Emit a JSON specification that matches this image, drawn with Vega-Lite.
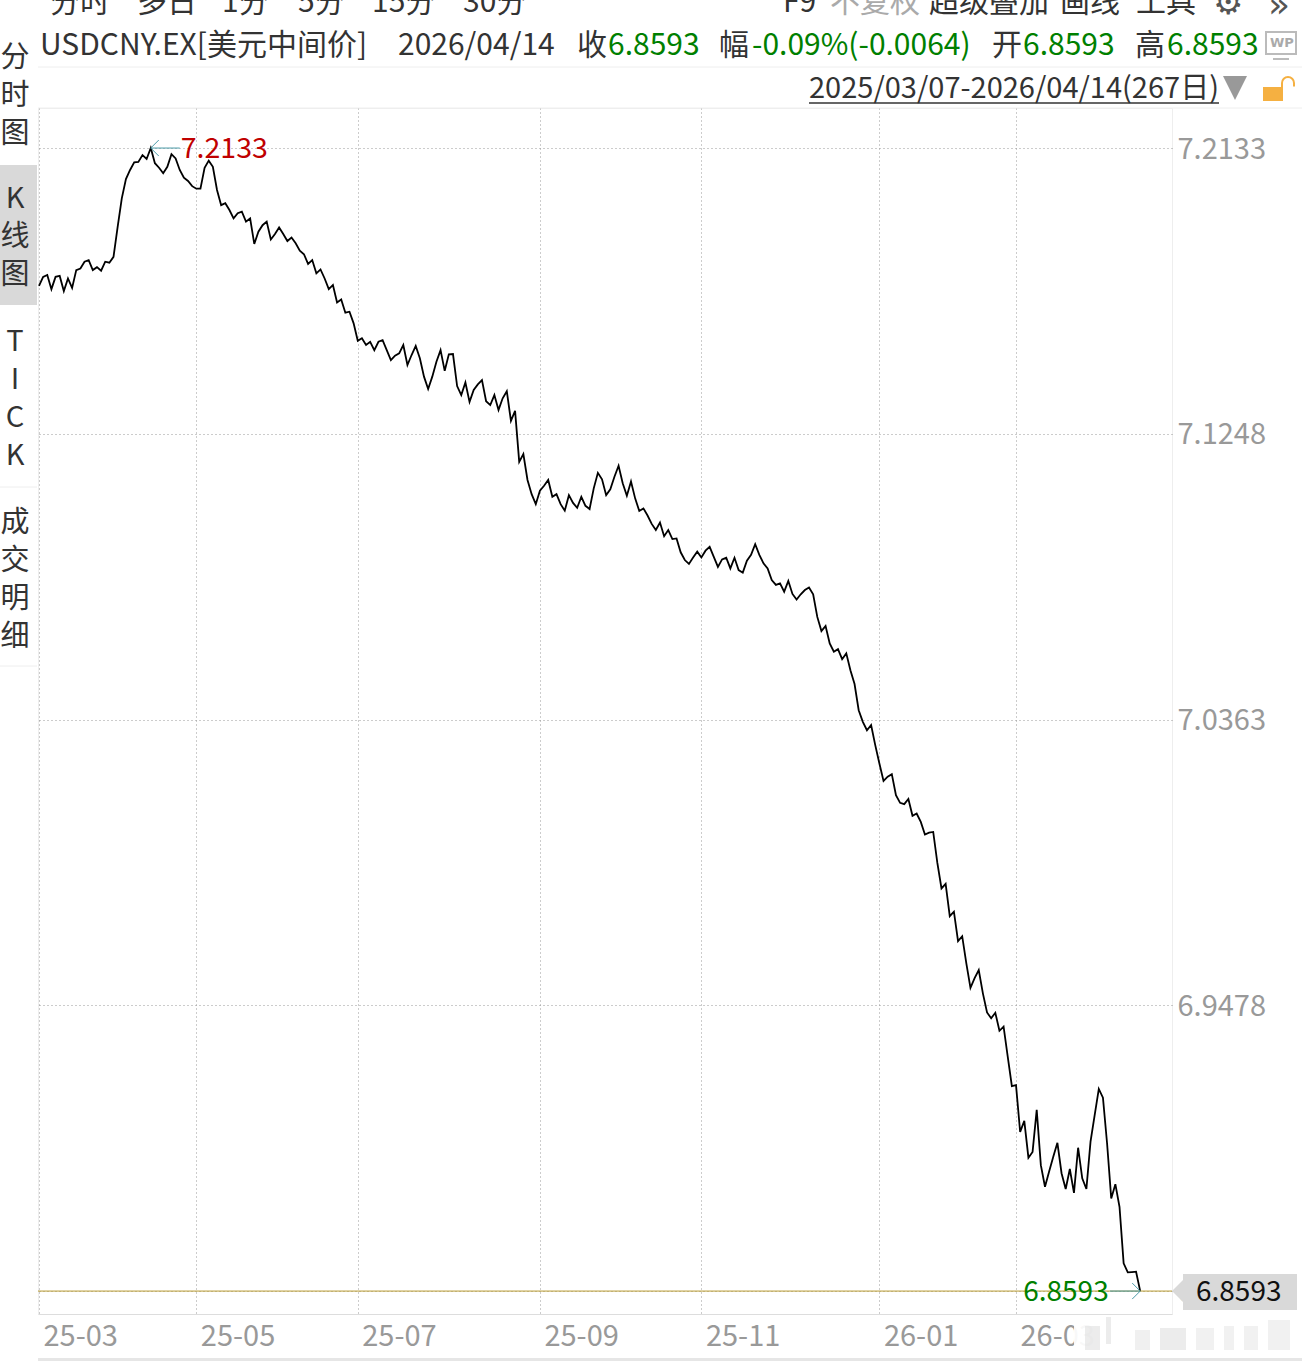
{
"$schema":"https://vega.github.io/schema/vega-lite/v6.json",
"width":1134,"height":1206,
"autosize":{"type":"none"},
"padding":{"left":38,"top":108,"right":130,"bottom":52},
"background":"white",
"config":{
"view":{"stroke":"#eeeeee"},
"text":{"font":"Noto Sans CJK SC","fontSize":30,"align":"left","baseline":"middle","color":"#333333"}
},
"datasets":{
"one":[{}],
"prices":[
{"day":0,"close":7.1706},{"day":1,"close":7.1734},{"day":2,"close":7.174},{"day":3,"close":7.1696},{"day":4,"close":7.1734},{"day":5,"close":7.1737},{"day":6,"close":7.169},{"day":7,"close":7.1729},{"day":8,"close":7.17},{"day":9,"close":7.1755},
{"day":10,"close":7.176},{"day":11,"close":7.1781},{"day":12,"close":7.1786},{"day":13,"close":7.1755},{"day":14,"close":7.1764},{"day":15,"close":7.1753},{"day":16,"close":7.1781},{"day":17,"close":7.1778},{"day":18,"close":7.1796},{"day":19,"close":7.1889},
{"day":20,"close":7.1977},{"day":21,"close":7.2037},{"day":22,"close":7.2065},{"day":23,"close":7.2089},{"day":24,"close":7.209},{"day":25,"close":7.2111},{"day":26,"close":7.2099},{"day":27,"close":7.2133},{"day":28,"close":7.2086},{"day":29,"close":7.2072},
{"day":30,"close":7.2055},{"day":31,"close":7.2075},{"day":32,"close":7.2114},{"day":33,"close":7.2101},{"day":34,"close":7.2065},{"day":35,"close":7.2041},{"day":36,"close":7.2031},{"day":37,"close":7.2015},{"day":38,"close":7.2007},{"day":39,"close":7.2007},
{"day":40,"close":7.2072},{"day":41,"close":7.2094},{"day":42,"close":7.2075},{"day":43,"close":7.2003},{"day":44,"close":7.1956},{"day":45,"close":7.1962},{"day":46,"close":7.1941},{"day":47,"close":7.1915},{"day":48,"close":7.1931},{"day":49,"close":7.1936},
{"day":50,"close":7.1905},{"day":51,"close":7.1915},{"day":52,"close":7.1836},{"day":53,"close":7.1874},{"day":54,"close":7.1894},{"day":55,"close":7.1905},{"day":56,"close":7.185},{"day":57,"close":7.1867},{"day":58,"close":7.1887},{"day":59,"close":7.1867},
{"day":60,"close":7.1845},{"day":61,"close":7.1856},{"day":62,"close":7.1838},{"day":63,"close":7.1815},{"day":64,"close":7.1804},{"day":65,"close":7.1774},{"day":66,"close":7.1786},{"day":67,"close":7.1745},{"day":68,"close":7.1757},{"day":69,"close":7.1729},
{"day":70,"close":7.1696},{"day":71,"close":7.1709},{"day":72,"close":7.1655},{"day":73,"close":7.1664},{"day":74,"close":7.1623},{"day":75,"close":7.1626},{"day":76,"close":7.159},{"day":77,"close":7.1536},{"day":78,"close":7.1544},{"day":79,"close":7.1523},
{"day":80,"close":7.1533},{"day":81,"close":7.1507},{"day":82,"close":7.1533},{"day":83,"close":7.1538},{"day":84,"close":7.1507},{"day":85,"close":7.1476},{"day":86,"close":7.149},{"day":87,"close":7.1497},{"day":88,"close":7.1523},{"day":89,"close":7.1461},
{"day":90,"close":7.1492},{"day":91,"close":7.152},{"day":92,"close":7.1482},{"day":93,"close":7.1425},{"day":94,"close":7.1387},{"day":95,"close":7.1425},{"day":96,"close":7.1471},{"day":97,"close":7.1507},{"day":98,"close":7.1443},{"day":99,"close":7.1494},
{"day":100,"close":7.1495},{"day":101,"close":7.1396},{"day":102,"close":7.1368},{"day":103,"close":7.1407},{"day":104,"close":7.1347},{"day":105,"close":7.1384},{"day":106,"close":7.1401},{"day":107,"close":7.1414},{"day":108,"close":7.1349},{"day":109,"close":7.1337},
{"day":110,"close":7.1368},{"day":111,"close":7.1322},{"day":112,"close":7.1358},{"day":113,"close":7.138},{"day":114,"close":7.1288},{"day":115,"close":7.1319},{"day":116,"close":7.1161},{"day":117,"close":7.1185},{"day":118,"close":7.1105},{"day":119,"close":7.1061},
{"day":120,"close":7.103},{"day":121,"close":7.1072},{"day":122,"close":7.1087},{"day":123,"close":7.1105},{"day":124,"close":7.1053},{"day":125,"close":7.1061},{"day":126,"close":7.103},{"day":127,"close":7.101},{"day":128,"close":7.1058},{"day":129,"close":7.1034},
{"day":130,"close":7.1019},{"day":131,"close":7.1053},{"day":132,"close":7.1025},{"day":133,"close":7.1015},{"day":134,"close":7.1079},{"day":135,"close":7.1127},{"day":136,"close":7.1107},{"day":137,"close":7.1058},{"day":138,"close":7.1076},{"day":139,"close":7.1115},
{"day":140,"close":7.1149},{"day":141,"close":7.1095},{"day":142,"close":7.1056},{"day":143,"close":7.11},{"day":144,"close":7.1048},{"day":145,"close":7.1009},{"day":146,"close":7.1017},{"day":147,"close":7.0995},{"day":148,"close":7.0969},{"day":149,"close":7.095},
{"day":150,"close":7.0973},{"day":151,"close":7.0931},{"day":152,"close":7.095},{"day":153,"close":7.0922},{"day":154,"close":7.0924},{"day":155,"close":7.0881},{"day":156,"close":7.0857},{"day":157,"close":7.0845},{"day":158,"close":7.0865},{"day":159,"close":7.0883},
{"day":160,"close":7.0865},{"day":161,"close":7.0886},{"day":162,"close":7.0898},{"day":163,"close":7.0867},{"day":164,"close":7.0836},{"day":165,"close":7.0859},{"day":166,"close":7.0864},{"day":167,"close":7.0831},{"day":168,"close":7.0864},{"day":169,"close":7.0826},
{"day":170,"close":7.0818},{"day":171,"close":7.0855},{"day":172,"close":7.0873},{"day":173,"close":7.0906},{"day":174,"close":7.0873},{"day":175,"close":7.0847},{"day":176,"close":7.0831},{"day":177,"close":7.0795},{"day":178,"close":7.078},{"day":179,"close":7.0785},
{"day":180,"close":7.0759},{"day":181,"close":7.0792},{"day":182,"close":7.0752},{"day":183,"close":7.0735},{"day":184,"close":7.0751},{"day":185,"close":7.0764},{"day":186,"close":7.0772},{"day":187,"close":7.0751},{"day":188,"close":7.0681},{"day":189,"close":7.0637},
{"day":190,"close":7.0653},{"day":191,"close":7.0599},{"day":192,"close":7.0573},{"day":193,"close":7.0581},{"day":194,"close":7.055},{"day":195,"close":7.0568},{"day":196,"close":7.0516},{"day":197,"close":7.0473},{"day":198,"close":7.0392},{"day":199,"close":7.0356},
{"day":200,"close":7.033},{"day":201,"close":7.0346},{"day":202,"close":7.0284},{"day":203,"close":7.0227},{"day":204,"close":7.0173},{"day":205,"close":7.0186},{"day":206,"close":7.0194},{"day":207,"close":7.0129},{"day":208,"close":7.0105},{"day":209,"close":7.0101},
{"day":210,"close":7.0117},{"day":211,"close":7.0065},{"day":212,"close":7.0072},{"day":213,"close":7.0046},{"day":214,"close":7.0007},{"day":215,"close":7.0013},{"day":216,"close":7.0015},{"day":217,"close":6.9919},{"day":218,"close":6.984},{"day":219,"close":6.9854},
{"day":220,"close":6.9754},{"day":221,"close":6.9768},{"day":222,"close":6.9677},{"day":223,"close":6.9692},{"day":224,"close":6.9608},{"day":225,"close":6.9532},{"day":226,"close":6.9562},{"day":227,"close":6.9587},{"day":228,"close":6.9515},{"day":229,"close":6.9456},
{"day":230,"close":6.9438},{"day":231,"close":6.9455},{"day":232,"close":6.9399},{"day":233,"close":6.9412},{"day":234,"close":6.9319},{"day":235,"close":6.9228},{"day":236,"close":6.9231},{"day":237,"close":6.9086},{"day":238,"close":6.912},{"day":239,"close":6.9006},
{"day":240,"close":6.9024},{"day":241,"close":6.9154},{"day":242,"close":6.8983},{"day":243,"close":6.8916},{"day":244,"close":6.8963},{"day":245,"close":6.9009},{"day":246,"close":6.9052},{"day":247,"close":6.8958},{"day":248,"close":6.8909},{"day":249,"close":6.8971},
{"day":250,"close":6.8897},{"day":251,"close":6.9037},{"day":252,"close":6.8942},{"day":253,"close":6.8909},{"day":254,"close":6.9056},{"day":255,"close":6.9138},{"day":256,"close":6.9219},{"day":257,"close":6.9192},{"day":258,"close":6.905},{"day":259,"close":6.888},
{"day":260,"close":6.8924},{"day":261,"close":6.8854},{"day":262,"close":6.8679},{"day":263,"close":6.8651},{"day":264,"close":6.8652},{"day":265,"close":6.8653},{"day":266,"close":6.8593}
]},
"data":{"name":"one"},
"layer":[
{"data":{"name":"prices"},
 "mark":{"type":"line","color":"#000000","strokeWidth":1.8,"clip":false},
 "encoding":{
  "x":{"field":"day","type":"quantitative","title":null,
   "scale":{"domain":[-0.24,273.68],"nice":false,"zero":false},
   "axis":{"values":[0,38,77,121,160,203,236],"labelExpr":"['25-03','25-05','25-07','25-09','25-11','26-01','26-03'][indexof([0,38,77,121,160,203,236],datum.value)]",
    "labelFont":"Noto Sans CJK SC","labelFontSize":29,"labelColor":"#999999","labelAlign":"left","labelBaseline":"middle","labelOffset":4,"labelPadding":22,"labelOverlap":false,"labelFlush":false,
    "ticks":false,"domain":true,"domainColor":"#dddddd","grid":true,"gridDash":[1,3],"gridColor":"#999999","gridWidth":1}},
  "y":{"field":"close","type":"quantitative","title":null,
   "scale":{"domain":[6.8522,7.2257],"nice":false,"zero":false},
   "axis":{"orient":"right","values":[7.2133,7.1248,7.0363,6.9478,6.8593],"format":".4f",
    "labelFont":"Noto Sans CJK SC","labelFontSize":29,"labelColor":"#999999","labelPadding":5,"labelOffset":1,"labelOverlap":false,"labelFlush":false,
    "ticks":false,"domain":false,"grid":true,"gridDash":[1,3],"gridColor":"#999999","gridWidth":1}}
 }},
{"mark":{"type":"rule","color":"#b89b30","strokeWidth":1},"encoding":{"y":{"datum":6.8593,"title":null}}},
{"mark":{"type":"rule","color":"#4a9aa8","strokeWidth":1},"encoding":{"x":{"datum":27,"title":null},"x2":{"datum":34},"y":{"datum":7.2133,"title":null}}},
{"mark":{"type":"point","shape":"M1,-1L0,0L1,1","size":256,"filled":false,"color":"#4a9aa8","strokeWidth":1,"opacity":1},"encoding":{"x":{"datum":27,"title":null},"y":{"datum":7.2133,"title":null}}},
{"mark":{"type":"text","text":"7.2133","color":"#c00000","dx":30,"dy":1,"fontSize":28.5},"encoding":{"x":{"datum":27,"title":null},"y":{"datum":7.2133,"title":null}}},
{"mark":{"type":"rule","color":"#4a9aa8","strokeWidth":1},"encoding":{"x":{"datum":258.7,"title":null},"x2":{"datum":266},"y":{"datum":6.8593,"title":null}}},
{"mark":{"type":"point","shape":"M-1,-1L0,0L-1,1","size":256,"filled":false,"color":"#4a9aa8","strokeWidth":1,"opacity":1},"encoding":{"x":{"datum":266,"title":null},"y":{"datum":6.8593,"title":null}}},
{"mark":{"type":"text","text":"6.8593","color":"#008000","dx":-117,"dy":2,"fontSize":28},"encoding":{"x":{"datum":266,"title":null},"y":{"datum":6.8593,"title":null}}},

{"mark":{"type":"point","shape":"M-1,0L0,-1L0,1Z","size":484,"filled":true,"color":"#d9d9d9","opacity":1,"x":1145,"y":1183}},
{"mark":{"type":"rect","color":"#d9d9d9"},"encoding":{"x":{"value":1145},"x2":{"value":1259},"y":{"value":1166},"y2":{"value":1202}}},
{"mark":{"type":"text","text":"6.8593","color":"#111111","fontSize":28,"x":1158,"y":1185}},

{"mark":{"type":"rect","color":"#ffffff","opacity":0.93},"encoding":{"x":{"value":1036},"x2":{"value":1254},"y":{"value":1209},"y2":{"value":1245}}},
{"mark":{"type":"rect","color":"#dddddd","opacity":0.55},"encoding":{"x":{"value":1047},"x2":{"value":1062},"y":{"value":1218},"y2":{"value":1242}}},
{"mark":{"type":"rect","color":"#dddddd","opacity":0.55},"encoding":{"x":{"value":1068},"x2":{"value":1073},"y":{"value":1209},"y2":{"value":1236}}},
{"mark":{"type":"rect","color":"#dddddd","opacity":0.45},"encoding":{"x":{"value":1097},"x2":{"value":1112},"y":{"value":1222},"y2":{"value":1242}}},
{"mark":{"type":"rect","color":"#dddddd","opacity":0.55},"encoding":{"x":{"value":1122},"x2":{"value":1148},"y":{"value":1220},"y2":{"value":1242}}},
{"mark":{"type":"rect","color":"#dddddd","opacity":0.4},"encoding":{"x":{"value":1158},"x2":{"value":1176},"y":{"value":1220},"y2":{"value":1242}}},
{"mark":{"type":"rect","color":"#dddddd","opacity":0.4},"encoding":{"x":{"value":1186},"x2":{"value":1196},"y":{"value":1218},"y2":{"value":1242}}},
{"mark":{"type":"rect","color":"#dddddd","opacity":0.4},"encoding":{"x":{"value":1206},"x2":{"value":1220},"y":{"value":1218},"y2":{"value":1242}}},
{"mark":{"type":"rect","color":"#dddddd","opacity":0.4},"encoding":{"x":{"value":1230},"x2":{"value":1252},"y":{"value":1212},"y2":{"value":1242}}},
{"mark":{"type":"rect","color":"#e6e6e6"},"encoding":{"x":{"value":0},"x2":{"value":1264},"y":{"value":1250},"y2":{"value":1253}}},

{"mark":{"type":"rect","color":"#d9d9d9"},"encoding":{"x":{"value":-38},"x2":{"value":-1},"y":{"value":57},"y2":{"value":197}}},
{"mark":{"type":"rule","color":"#eeeeee"},"encoding":{"x":{"value":0},"x2":{"value":1264},"y":{"value":-41}}},
{"mark":{"type":"rule","color":"#eeeeee"},"encoding":{"x":{"value":0},"x2":{"value":1264},"y":{"value":0}}},
{"mark":{"type":"rule","color":"#eeeeee"},"encoding":{"x":{"value":-38},"x2":{"value":-1},"y":{"value":379}}},
{"mark":{"type":"rule","color":"#eeeeee"},"encoding":{"x":{"value":-38},"x2":{"value":-1},"y":{"value":558}}},

{"mark":{"type":"text","text":["分","时","图"],"lineHeight":38,"fontSize":29,"align":"center","baseline":"top","x":-23,"y":-64}},
{"mark":{"type":"text","text":["K","线","图"],"lineHeight":38,"fontSize":29,"align":"center","baseline":"top","x":-23,"y":77}},
{"mark":{"type":"text","text":["T","I","C","K"],"lineHeight":38,"fontSize":29,"align":"center","baseline":"top","x":-23,"y":220}},
{"mark":{"type":"text","text":["成","交","明","细"],"lineHeight":38,"fontSize":29,"align":"center","baseline":"top","x":-23,"y":401}},

{"mark":{"type":"text","text":"分时","x":12,"y":-105}},
{"mark":{"type":"text","text":"多日","x":99,"y":-105}},
{"mark":{"type":"text","text":"1分","x":184,"y":-105}},
{"mark":{"type":"text","text":"5分","x":260,"y":-105}},
{"mark":{"type":"text","text":"15分","x":334,"y":-105}},
{"mark":{"type":"text","text":"30分","x":425,"y":-105}},
{"mark":{"type":"text","text":"F9","x":745,"y":-105}},
{"mark":{"type":"text","text":"不复权","color":"#aaaaaa","x":792,"y":-105}},
{"mark":{"type":"text","text":"超级叠加","x":891,"y":-105}},
{"mark":{"type":"text","text":"画线","x":1022,"y":-105}},
{"mark":{"type":"text","text":"工具","x":1098,"y":-105}},
{"mark":{"type":"text","text":"⚙","font":"DejaVu Sans","fontSize":34,"color":"#555555","x":1175,"y":-104}},
{"mark":{"type":"text","text":"»","font":"DejaVu Sans","fontSize":36,"color":"#555555","x":1230,"y":-102}},

{"mark":{"type":"text","text":"USDCNY.EX[美元中间价]","x":2,"y":-62}},
{"mark":{"type":"text","text":"2026/04/14","x":360,"y":-62}},
{"mark":{"type":"text","text":"收","x":539,"y":-62}},
{"mark":{"type":"text","text":"6.8593","color":"#008000","x":570,"y":-62}},
{"mark":{"type":"text","text":"幅","x":681,"y":-62}},
{"mark":{"type":"text","text":"-0.09%(-0.0064)","color":"#008000","x":714,"y":-62}},
{"mark":{"type":"text","text":"开","x":954,"y":-62}},
{"mark":{"type":"text","text":"6.8593","color":"#008000","x":985,"y":-62}},
{"mark":{"type":"text","text":"高","x":1097,"y":-62}},
{"mark":{"type":"text","text":"6.8593","color":"#008000","x":1129,"y":-62}},

{"mark":{"type":"rect","filled":false,"stroke":"#bbbbbb","strokeWidth":2},"encoding":{"x":{"value":1228},"x2":{"value":1258},"y":{"value":-76},"y2":{"value":-54}}},
{"mark":{"type":"text","text":"WP","font":"DejaVu Sans","fontWeight":"bold","fontSize":13,"color":"#aaaaaa","x":1232,"y":-65}},
{"mark":{"type":"rule","color":"#bbbbbb","strokeWidth":2},"encoding":{"x":{"value":1235},"x2":{"value":1251},"y":{"value":-49}}},

{"mark":{"type":"text","text":"2025/03/07-2026/04/14(267日)","fontSize":29,"x":771,"y":-19}},
{"mark":{"type":"rule","color":"#333333","strokeWidth":1.5},"encoding":{"x":{"value":771},"x2":{"value":1181},"y":{"value":-5}}},
{"mark":{"type":"point","shape":"M-1,-1L1,-1L0,1Z","size":576,"filled":true,"color":"#999999","opacity":1,"x":1197,"y":-20}},
{"mark":{"type":"rect","color":"#f5b041"},"encoding":{"x":{"value":1225},"x2":{"value":1245},"y":{"value":-21},"y2":{"value":-7}}},
{"mark":{"type":"point","shape":"M-1,1L-1,0A1,1,0,0,1,1,0L1,0.6","size":144,"filled":false,"color":"#f5b041","strokeWidth":2,"opacity":1,"x":1250,"y":-25}}
]
}
